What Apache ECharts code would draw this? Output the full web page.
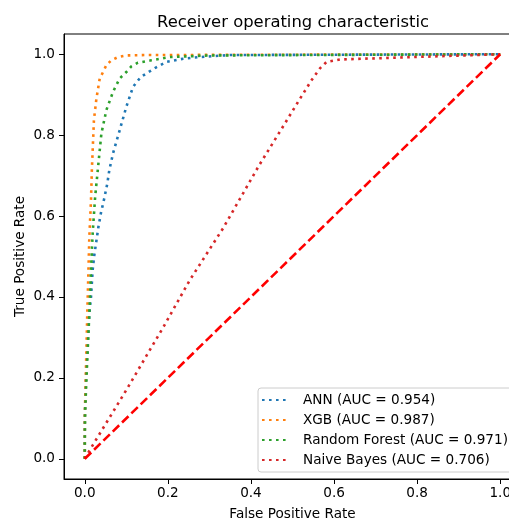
<!DOCTYPE html>
<html>
<head>
<meta charset="utf-8">
<script src="https://cdn.jsdelivr.net/npm/echarts@6/dist/echarts.min.js"></script>
<style>
  html, body { margin: 0; padding: 0; background: #fff; }
  #chart { width: 509px; height: 523px; }
</style>
</head>
<body>
<div id="chart"></div>
<script>
// ROC points: [false positive rate, true positive rate]
const annRoc = [
  [0, 0], [0, 0.1], [0.003, 0.2], [0.007, 0.286], [0.011, 0.36], [0.015, 0.4],
  [0.019, 0.467], [0.023, 0.504], [0.028, 0.539], [0.033, 0.574], [0.039, 0.608],
  [0.047, 0.644], [0.054, 0.679], [0.059, 0.713], [0.068, 0.755], [0.084, 0.812],
  [0.1, 0.87], [0.116, 0.919], [0.135, 0.944], [0.157, 0.958], [0.171, 0.967],
  [0.197, 0.981], [0.237, 0.989], [0.277, 0.993], [0.35, 0.998], [1, 1]
]
const xgbRoc = [
  [0, 0], [0, 0.104], [0.006, 0.356], [0.011, 0.549], [0.015, 0.64], [0.017, 0.713],
  [0.022, 0.837], [0.028, 0.89], [0.036, 0.94], [0.044, 0.956], [0.052, 0.973],
  [0.064, 0.985], [0.08, 0.993], [0.1, 0.997], [0.148, 0.998], [1, 1]
]
const rfRoc = [
  [0, 0], [0, 0.04], [0.001, 0.121], [0.006, 0.244], [0.011, 0.36], [0.015, 0.467],
  [0.019, 0.557], [0.025, 0.648], [0.03, 0.7], [0.04, 0.804], [0.052, 0.862],
  [0.068, 0.907], [0.084, 0.94], [0.1, 0.956], [0.112, 0.97], [0.128, 0.979],
  [0.16, 0.985], [0.205, 0.993], [0.3, 0.997], [1, 1]
]
const nbRoc = [
  [0, 0], [0.02, 0.035], [0.1, 0.17], [0.19, 0.327], [0.253, 0.442], [0.333, 0.57],
  [0.42, 0.726], [0.474, 0.816], [0.518, 0.89], [0.546, 0.936], [0.566, 0.965],
  [0.582, 0.981], [0.614, 0.987], [1, 1]
]
const chanceLine = [[0, 0], [1, 1]]

const seriesNames = ['ANN (AUC = 0.954)', 'XGB (AUC = 0.987)', 'Random Forest (AUC = 0.971)', 'Naive Bayes (AUC = 0.706)']
const seriesColors = ['#1f77b4', '#ff7f0e', '#2ca02c', '#d62728']
const tickValues = [0, 0.2, 0.4, 0.6, 0.8, 1.0]

const font = 'DejaVu Sans'
const chart = echarts.init(document.getElementById('chart'))

const dotted = (name, data, color) => ({
  name: name,
  type: 'line',
  data: data,
  symbol: 'none',
  itemStyle: { color: color },
  lineStyle: { color: color, width: 2.6, type: [2.6, 4.4] }
})

const axisCommon = {
  type: 'value',
  min: -0.05,
  max: 1.05,
  nameLocation: 'middle',
  nameMoveOverlap: false,
  nameTextStyle: { fontFamily: font, fontSize: 13.6, color: '#000' },
  axisLine: { show: true, onZero: false, lineStyle: { color: '#000', width: 1 } },
  axisTick: { show: true, length: 5, lineStyle: { color: '#000', width: 1 }, customValues: tickValues },
  axisLabel: {
    fontFamily: font, fontSize: 13.6, color: '#000',
    customValues: tickValues,
    formatter: (v) => v.toFixed(1)
  },
  splitLine: { show: false }
}

const option = {
  backgroundColor: '#fff',
  animation: false,
  title: {
    text: 'Receiver operating characteristic',
    left: 288,
    top: 10,
    textAlign: 'center',
    textStyle: { fontFamily: font, fontSize: 16.4, fontWeight: 'normal', color: '#000' }
  },
  grid: {
    left: 64,
    top: 34,
    width: 457,
    height: 445,
    show: true,
    borderColor: '#000',
    borderWidth: 1,
    containLabel: false,
    outerBoundsMode: 'none'
  },
  legend: {
    data: seriesNames,
    orient: 'vertical',
    left: 258,
    top: 388,
    itemWidth: 27,
    itemHeight: 14,
    itemGap: 6,
    padding: [5, 18, 5, 3],
    backgroundColor: '#fff',
    borderColor: '#cccccc',
    borderWidth: 1,
    borderRadius: 3,
    itemStyle: { opacity: 0 },
    textStyle: { fontFamily: font, fontSize: 13.6, color: '#000', padding: [0, 0, 0, 9] }
  },
  xAxis: Object.assign({}, axisCommon, {
    name: 'False Positive Rate',
    nameGap: 28,
    axisLabel: Object.assign({}, axisCommon.axisLabel, { margin: 7 })
  }),
  yAxis: Object.assign({}, axisCommon, {
    name: 'True Positive Rate',
    nameGap: 37,
    axisLabel: Object.assign({}, axisCommon.axisLabel, { margin: 9 })
  }),
  series: [
    dotted(seriesNames[0], annRoc, seriesColors[0]),
    dotted(seriesNames[1], xgbRoc, seriesColors[1]),
    dotted(seriesNames[2], rfRoc, seriesColors[2]),
    dotted(seriesNames[3], nbRoc, seriesColors[3]),
    {
      name: 'chance',
      type: 'line',
      data: chanceLine,
      symbol: 'none',
      lineStyle: { color: '#ff0000', width: 2.6, type: [9, 4] }
    }
  ]
}

chart.setOption(option)
</script>
</body>
</html>
